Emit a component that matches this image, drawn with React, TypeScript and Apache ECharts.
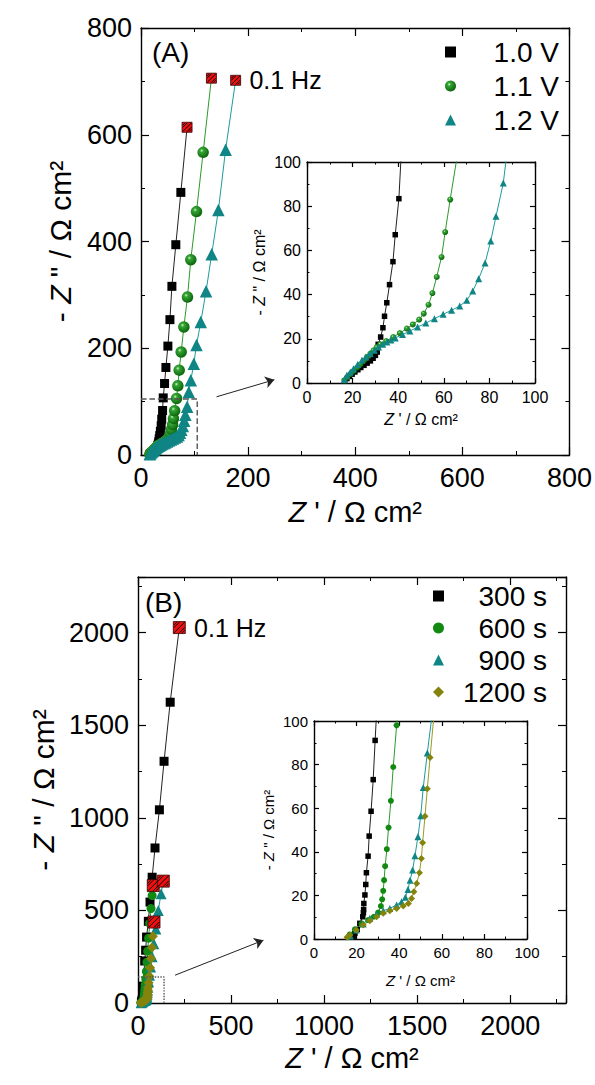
import React, { useEffect, useRef } from 'react';
import * as echarts from 'echarts';

const FONT = '"Liberation Sans", Arial, Helvetica, sans-serif';
type P = [number, number];

// ---------- Panel A (potential) ----------
const namesA = ['1.0 V', '1.1 V', '1.2 V'];
const a10: P[] = [
  [16.5, 1.0], [17.5, 2.0], [18.6, 3.0], [19.8, 4.0], [21, 5], [22.3, 6], [23.6, 7], [25, 8], [26.4, 9],
  [27.8, 10], [29, 11.2], [30, 12.5], [30.8, 14], [31.2, 17.5], [32.3, 20.8], [33.3, 25], [34, 30.2],
  [35, 36.3], [36.2, 44.5], [37.7, 54.9], [38.7, 67.1], [40.3, 83.4],
  [41.5, 107], [44, 134], [46.5, 164], [50.2, 204], [54, 253.6], [57.7, 316], [65, 394], [74.4, 492],
];
const a11: P[] = [
  [16.4, 1.2], [17.5, 2.4], [19, 4], [20.4, 5.4], [22, 7], [23.4, 8.4], [25, 10.2], [26.3, 11.8], [27.8, 13.3],
  [29.2, 14.8], [30.6, 16.2], [32.1, 17.5], [34.7, 19], [37.8, 20.8], [40.7, 22.6], [43.8, 24.6], [46.4, 26.5],
  [49.2, 28.7], [51.2, 31.4], [53.3, 35.4], [55, 40.7], [56.9, 48], [59, 57], [60.6, 68.3], [62.8, 83],
  [66.4, 106], [68.8, 129.6], [71.3, 159], [75, 193], [80, 240], [86.8, 296], [93, 366], [103.6, 456], [116, 567],
];
const a12: P[] = [
  [16.4, 1.5], [17.5, 3.5], [19, 5], [20.4, 6.5], [22.2, 8.4], [24.1, 10.3], [25.9, 11.8], [27.7, 13.3],
  [29.5, 14.8], [31.4, 16.3], [33.2, 17.5], [35, 18.6], [36.8, 19.5], [38.7, 20.4], [41.9, 21.9], [45.1, 23.5],
  [48.5, 25.3], [52.1, 27.1], [55.9, 29.1], [59.7, 31.1], [63.4, 32.9], [67, 34.8], [70.1, 37.4], [72.7, 41.6],
  [75.3, 47.2], [78.1, 54.3], [80.6, 64.3], [82.9, 75.4], [86.1, 90.5],
  [89.3, 118], [93, 140], [98.6, 171], [103.6, 206], [111.6, 249], [121.5, 307], [132, 376], [144.5, 459], [158, 572],
];
// 0.1 Hz points (1.0 V, 1.1 V, 1.2 V)
const lowA: P[] = [[86, 614], [131.5, 706], [176.7, 702]];
const boxA = 105;
const arrowA: P[] = [[141, 109], [249, 141]];

// ---------- Panel B (time) ----------
const namesB = ['300 s', '600 s', '900 s', '1200 s'];
const b300: P[] = [
  [18.4, 1.1], [19.2, 2.6], [20.3, 4.4], [21.5, 7.2], [22.9, 10.2], [23.2, 12], [23.3, 13.5], [23.4, 16.3],
  [23.9, 20.2], [24.3, 25], [24.6, 30.4], [25.4, 38], [25.9, 47.2], [26.8, 58.6], [27.8, 73.1], [28.7, 91.1],
  [36, 227], [41, 285], [46, 356], [55.6, 441], [64.5, 545], [76, 679], [91.4, 837], [115, 1043], [140, 1305], [173, 1624],
];
const b600: P[] = [
  [16.2, 0.9], [16.8, 2.1], [19.2, 4.4], [22.3, 6.9], [25.4, 8.7], [28.1, 10.2], [30.1, 12.1], [31.4, 15.1],
  [32, 18.2], [32.5, 22.1], [32.9, 27], [33.4, 33.4], [34.2, 41.2], [35, 51.1], [36.1, 63.4], [37.2, 78.9], [38.8, 98],
  [42, 130], [45, 170], [48, 220], [52, 280], [57, 350], [63, 430], [70, 510], [76, 580],
];
const b900: P[] = [
  [17.1, 1.4], [19.9, 4.1], [23.1, 6.9], [26.2, 9.5], [29.4, 11.5], [32.5, 13], [35.6, 14], [38.8, 15.6],
  [41.1, 17.1], [42.9, 19.1], [44.1, 22.7], [45.1, 27], [46.3, 31.6], [47.4, 38.2], [48.8, 46.9], [50.1, 56.5],
  [51.3, 69.5], [53.2, 85.3],
  [57, 115], [62, 150], [68, 195], [76, 250], [85, 320], [96, 400], [109, 500], [124, 590],
];
const b1200: P[] = [
  [15.5, 0.8], [16.8, 1.8], [19.9, 4.1], [23.1, 6.4], [26.2, 8.4], [29.4, 10.2], [32.5, 11.8], [35.6, 13],
  [38.8, 14], [41.9, 15.1], [44.3, 16.3], [45.8, 18.6], [46.9, 21.7], [48.2, 25.5], [49.5, 30.4], [50.4, 36.9],
  [51, 44.1], [52.1, 56.3], [53.2, 68.9], [54.5, 83.2],
  [57, 110], [61, 145], [65, 190], [70, 240], [75, 300], [80, 360],
];
// 0.1 Hz points (300, 600, 900, 1200 s)
const lowB: P[] = [[222, 2027], [82, 634], [136, 658], [86, 437]];
const boxB = 140;
const arrowB: P[] = [[199, 150], [674, 339]];

const mainTicksA = { min: 0, max: 800, interval: 200 };
const mainTicksB = { min: 0, max: 2300, interval: 500 };
const insetTicks = { min: 0, max: 100, interval: 20 };

const HATCH = 'path://M0,5L5,0M0,10L10,0M5,10L10,5M0,2.5L2.5,0M7.5,10L10,7.5';

const sphere = {
  type: 'radial', x: 0.38, y: 0.35, r: 0.7,
  colorStops: [
    { offset: 0, color: '#d2f5c8' },
    { offset: 0.22, color: '#35a535' },
    { offset: 1, color: '#075f07' },
  ],
};

function axisPair(kind: 'x' | 'y', g: number, ticks: any, labelSize: number, tickLen: number,
  name: string, nameGap: number, nameSize: number, hideMax = false) {
  const common = {
    type: 'value', gridIndex: g, min: ticks.min, max: ticks.max, interval: ticks.interval,
    axisLine: { show: true, onZero: false, lineStyle: { color: '#000', width: 1.4 } },
    axisTick: { show: true, inside: true, length: tickLen, lineStyle: { color: '#000', width: 1.2 } },
    minorTick: { show: true, splitNumber: 2, length: tickLen / 2, lineStyle: { color: '#000', width: 1 } },
    splitLine: { show: false },
  };
  const primary = {
    ...common,
    position: kind === 'x' ? 'bottom' : 'left',
    axisLabel: {
      fontSize: labelSize, color: '#000', fontFamily: FONT, margin: labelSize > 20 ? 9 : 6,
      formatter: (v: number) => String(v), showMaxLabel: !hideMax,
    },
    name, nameLocation: 'middle', nameGap,
    nameTextStyle: {
      fontSize: nameSize, color: '#000', fontFamily: FONT,
      rich: { i: { fontStyle: 'italic', fontSize: nameSize, fontFamily: FONT, color: '#000' } },
    },
  };
  const mirror = {
    ...common,
    position: kind === 'x' ? 'top' : 'right',
    axisLabel: { show: false },
  };
  return [primary, mirror];
}

const xName = "{i|Z} ' / Ω cm²";
const yName = '- {i|Z} " / Ω cm²';

function seriesSet(g: number, names: string[], sets: P[][], lows: P[] | null, styles: any[], inset: boolean) {
  const out: any[] = [];
  sets.forEach((pts, k) => {
    const st = styles[k];
    const lineData = lows ? [...pts, lows[k]] : pts;
    out.push({
      type: 'line', name: names[k] + ' fit', xAxisIndex: 2 * g, yAxisIndex: 2 * g,
      data: lineData, showSymbol: false, symbol: 'none', silent: true, clip: true, z: 1,
      lineStyle: { color: st.line, width: 1 },
    });
    out.push({
      type: 'scatter', name: names[k], xAxisIndex: 2 * g, yAxisIndex: 2 * g,
      data: pts, symbol: st.symbol, symbolSize: inset ? st.small : st.big, clip: true, z: 2,
      itemStyle: { color: st.color, borderWidth: 0, opacity: 1 },
    });
  });
  return out;
}

function lowSeries(g: number, lows: P[], size: number, labelIdx: number) {
  return [
    {
      type: 'scatter', name: 'low', xAxisIndex: 2 * g, yAxisIndex: 2 * g, data: lows, symbol: 'rect',
      symbolSize: size, z: 5, silent: true,
      itemStyle: { color: '#f01010', borderColor: '#300000', borderWidth: 0.8, opacity: 1 },
    },
    {
      type: 'scatter', name: 'hatch', xAxisIndex: 2 * g, yAxisIndex: 2 * g, symbol: HATCH,
      symbolSize: size - 1.5, z: 6, silent: true,
      data: lows.map((p, i) => i === labelIdx ? {
        value: p,
        label: {
          show: true, position: 'right', distance: 7, formatter: '0.1 Hz',
          fontSize: 25, fontFamily: FONT, color: '#000',
        },
      } : { value: p }),
      itemStyle: { color: 'none', borderColor: '#000', borderWidth: 1, opacity: 1 },
    },
  ];
}

function boxSeries(g: number, box: number, arrow: P[], type: string) {
  return {
    type: 'line', name: 'box', xAxisIndex: 2 * g, yAxisIndex: 2 * g, silent: true, z: 3,
    data: [[0, box], [box, box], [box, 0]], showSymbol: false, symbol: 'none',
    lineStyle: { color: '#555', width: 1.4, type },
    markLine: {
      silent: true, symbol: ['none', 'arrow'], symbolSize: 9,
      lineStyle: { color: '#222', width: 1, type: 'solid' }, label: { show: false },
      data: [[{ coord: arrow[0] }, { coord: arrow[1] }]],
    },
  };
}

const stylesA = [
  { color: '#000', line: '#222', symbol: 'rect', big: 9, small: 5.5 },
  { color: sphere, line: '#2b9a2b', symbol: 'circle', big: 11.5, small: 6 },
  { color: '#108585', line: '#1d9b9b', symbol: 'triangle', big: 12.5, small: 7 },
];
const stylesB = [
  { color: '#000', line: '#222', symbol: 'rect', big: 9, small: 5.5 },
  { color: '#128a12', line: '#2b9a2b', symbol: 'circle', big: 9, small: 6 },
  { color: '#108585', line: '#1d9b9b', symbol: 'triangle', big: 11, small: 7 },
  { color: '#84840c', line: '#9a9a20', symbol: 'diamond', big: 10, small: 7 },
];

function legendFor(names: string[], left: number, top: number, gap: number) {
  return {
    orient: 'vertical', left, top, padding: 0, itemGap: gap, itemWidth: 11, itemHeight: 11,
    selectedMode: false, data: names,
    formatter: (n: string) => `{t|${n}}`,
    textStyle: {
      rich: { t: { width: 98, align: 'right', fontSize: 28, fontFamily: FONT, color: '#000', lineHeight: 30 } },
    },
  };
}

export default function App() {
  const ref = useRef<HTMLDivElement>(null);
  useEffect(() => {
    document.body.style.margin = '0';
    const chart = echarts.init(ref.current!, null, { renderer: 'svg' });
    const [xA, xAt] = axisPair('x', 0, mainTicksA, 27, 8, xName, 42, 29);
    const [yA, yAr] = axisPair('y', 0, mainTicksA, 27, 8, yName, 66, 30);
    const [xAi, xAit] = axisPair('x', 1, insetTicks, 16, 5, xName, 28, 16);
    const [yAi, yAir] = axisPair('y', 1, insetTicks, 16, 5, yName, 40, 16);
    const [xB, xBt] = axisPair('x', 2, mainTicksB, 27, 8, xName, 40, 29, true);
    const [yB, yBr] = axisPair('y', 2, mainTicksB, 27, 8, yName, 66, 30, true);
    const [xBi, xBit] = axisPair('x', 3, insetTicks, 15, 5, xName, 34, 15);
    const [yBi, yBir] = axisPair('y', 3, insetTicks, 15, 5, yName, 38, 15);

    const setsA = [a10, a11, a12];
    const setsB = [b300, b600, b900, b1200];

    chart.setOption({
      animation: false,
      backgroundColor: '#fff',
      textStyle: { fontFamily: FONT },
      grid: [
        { left: 141, top: 28, width: 430, height: 427 },
        { left: 307, top: 162, width: 228, height: 221 },
        { left: 138, top: 577, width: 428, height: 426 },
        { left: 314, top: 721, width: 213, height: 218 },
      ],
      xAxis: [xA, xAt, xAi, xAit, xB, xBt, xBi, xBit],
      yAxis: [yA, yAr, yAi, yAir, yB, yBr, yBi, yBir],
      legend: [legendFor(namesA, 445, 38, 6), legendFor(namesB, 433, 582, 4)],
      graphic: [
        { type: 'text', left: 152, top: 38, style: { text: '(A)', fontSize: 28, fontFamily: FONT, fill: '#000' } },
        { type: 'text', left: 145, top: 588, style: { text: '(B)', fontSize: 28, fontFamily: FONT, fill: '#000' } },
      ],
      series: [
        boxSeries(0, boxA, arrowA, 'dashed'),
        ...seriesSet(0, namesA, setsA, lowA, stylesA, false),
        ...lowSeries(0, lowA, 10, 2),
        ...seriesSet(1, namesA, setsA, null, stylesA, true),
        boxSeries(2, boxB, arrowB, 'dotted'),
        ...seriesSet(2, namesB, setsB, lowB, stylesB, false),
        ...lowSeries(2, lowB, 12, 0),
        ...seriesSet(3, namesB, setsB, null, stylesB, true),
      ],
    });
    return () => chart.dispose();
  }, []);
  return <div ref={ref} style={{ width: 595, height: 1085 }} />;
}
